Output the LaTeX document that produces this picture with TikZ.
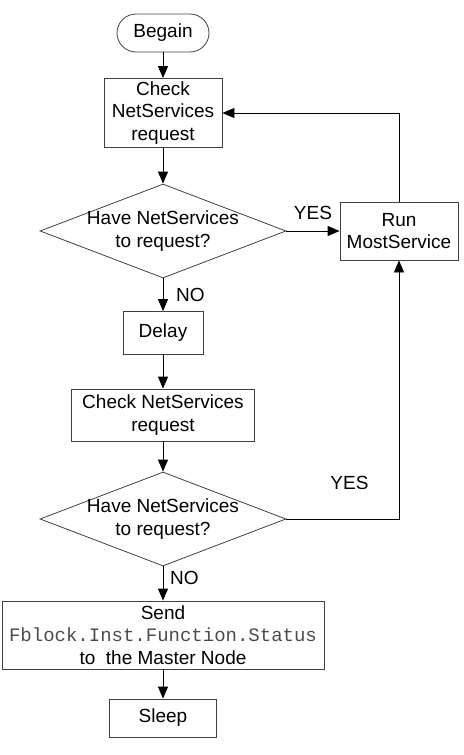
\documentclass[tikz,border=0pt]{standalone}
\usepackage{fontspec}
\setmainfont{Liberation Sans}
\setmonofont{Liberation Mono}
\usetikzlibrary{shapes.geometric, arrows.meta}

\begin{document}
\begin{tikzpicture}[node distance=40pt, >={Triangle[length=6pt, width=5pt]}, font=\fontsize{9.5}{11.25}\selectfont]
    \tikzstyle{startstop} = [rectangle, rounded corners=9.5pt, minimum width=46pt, minimum height=19pt, text centered, draw=black!75]
    \tikzstyle{process} = [rectangle, inner sep=0pt, align=center, draw=black!75]
    \tikzstyle{decision} = [diamond, aspect=2.6, inner sep=-2pt, minimum width=123pt, minimum height=47pt, align=center, draw=black!75]

    \useasboundingbox (-81.5pt,16.5pt) rectangle (150pt,-361pt);

    % Main flow
    \node [startstop] (begin) {Begain};
    \node [process, below of=begin, minimum width=59pt, minimum height=34.5pt] (check1) {Check\\NetServices\\request};
    \node [decision, below of=check1, yshift=-19pt] (dia1) {Have NetServices\\to request?};
    \node [process, below of=dia1, yshift=-11pt, minimum width=40pt, minimum height=21.5pt] (delay) {Delay};
    \node [process, below of=delay, yshift=-1pt, minimum width=91.5pt, minimum height=26pt] (check2) {Check NetServices\\request};
    \node [decision, below of=check2, yshift=-12pt] (dia2) {Have NetServices\\to request?};
    \node [process, below of=dia2, yshift=-18pt, minimum width=161pt, minimum height=34pt] (send) {Send\\{\ttfamily\color{black!70}Fblock.Inst.Function.Status}\\to~~the Master Node};
    \node [process, below of=send, yshift=-1.5pt, minimum width=53.5pt, minimum height=19pt] (sleep) {Sleep};

    % Service branch
    \node [process, right of=dia1, xshift=78pt, minimum width=59pt, minimum height=29pt] (run) {Run\\MostService};

    % Connections
    \draw [->] (begin) -- (check1);
    \draw [->] (check1) -- (dia1);
    \draw [->] (dia1) -- node [right=3pt] {NO} (delay);
    \draw [->] (delay) -- (check2);
    \draw [->] (check2) -- (dia2);
    \draw [->] (dia2) -- node [right=0pt, pos=0.35] {NO} (send);
    \draw [->] (send) -- (sleep);

    \draw [->] (dia1) -- node [above=2pt] {YES} (run);
    \draw [->] (run) |- (check1);
    \draw [->] (dia2) -| node [pos=0.28, above=11pt] {YES} (run);
\end{tikzpicture}
\end{document}
